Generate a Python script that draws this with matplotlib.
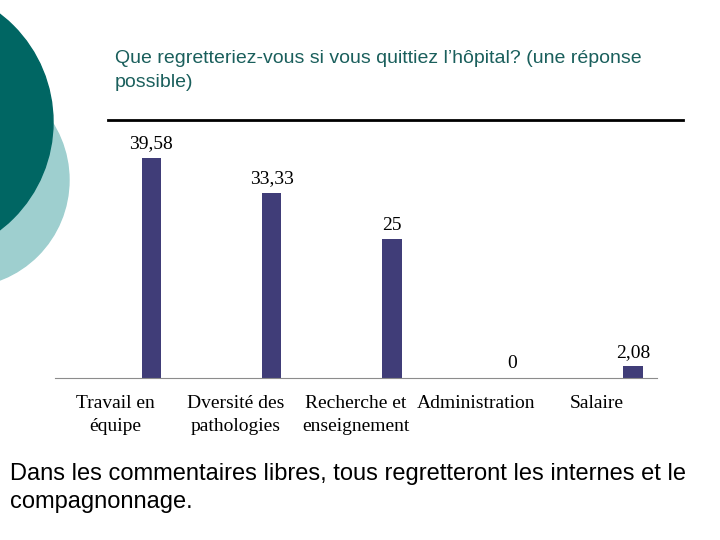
import numpy as np
import matplotlib.pyplot as plt
from matplotlib.patches import Circle

# --- données ---
categories = ["Travail en\néquipe", "Dversité des\npathologies", "Recherche et\nenseignement",
              "Administration", "Salaire"]
valeurs = [39.58, 33.33, 25, 0, 2.08]
etiquettes = ["39,58", "33,33", "25", "0", "2,08"]

titre = "Que regretteriez-vous si vous quittiez l’hôpital? (une réponse\npossible)"
commentaire = ("Dans les commentaires libres, tous regretteront les internes et le\n"
               "compagnonnage.")

fig = plt.figure(figsize=(7.2, 5.4), dpi=100)
W, H = 720, 540

# décor de la diapositive (cercles à gauche)
fond = fig.add_axes([0, 0, 1, 1])
fond.set_xlim(0, W)
fond.set_ylim(H, 0)
fond.axis('off')
fond.add_patch(Circle((-38, 180), 107, color='#9ecfcf', zorder=1))
fond.add_patch(Circle((-83, 122), 136, color='#006663', zorder=2))
fond.plot([108, 683], [120, 120], color='black', linewidth=2)

fig.text(115 / W, 1 - 50 / H, titre, color='#1a5f5c', fontsize=14,
         family='Liberation Sans', va='top', linespacing=1.55)
fig.text(10 / W, 1 - 463 / H, commentaire, color='black', fontsize=17,
         family='Liberation Sans', va='top', linespacing=1.36)

# graphique en barres
ax = fig.add_axes([55 / W, 1 - 378 / H, 602 / W, 250 / H])
x = np.arange(len(categories))
ax.bar(x + 0.3, valeurs, width=0.16, color='#403d78')
for xi, v, lab in zip(x, valeurs, etiquettes):
    ax.text(xi + 0.3, v + 1.0, lab, ha='center', va='bottom',
            family='Liberation Serif', fontsize=14, clip_on=False)

ax.set_xlim(-0.5, len(categories) - 0.5)
ax.set_ylim(0, 45)
ax.set_xticks(x)
ax.set_xticklabels(categories, family='Liberation Serif', fontsize=14, linespacing=1.45)
ax.tick_params(axis='x', length=0, pad=12)
ax.set_yticks([])
for s in ['top', 'left', 'right']:
    ax.spines[s].set_visible(False)
ax.spines['bottom'].set_color('#8c8c8c')
ax.patch.set_alpha(0)

plt.savefig('out.png', dpi=100)
